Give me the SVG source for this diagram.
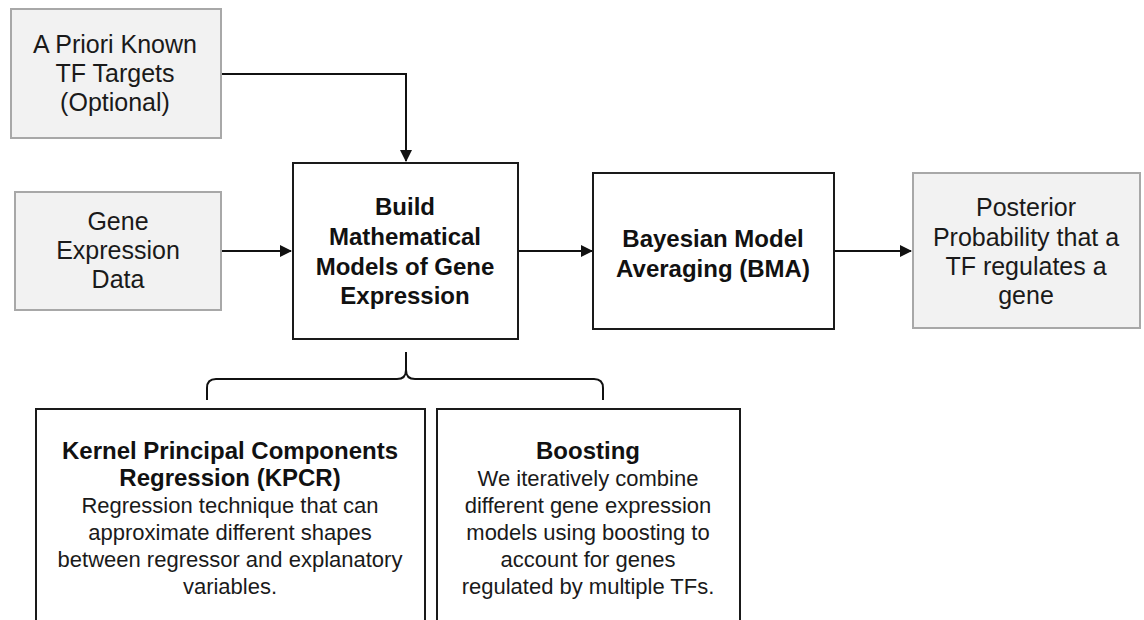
<svg xmlns="http://www.w3.org/2000/svg" width="1144" height="620" viewBox="0 0 1144 620">
<style>
.gray{fill:#f2f2f2;stroke:#a8a8a8;stroke-width:2}
.blk{fill:#ffffff;stroke:#1a1a1a;stroke-width:2}
.t{font-family:"Liberation Sans",Arial,sans-serif;font-size:25px;fill:#1a1a1a;text-anchor:middle}
.b{font-family:"Liberation Sans",Arial,sans-serif;font-size:24px;font-weight:bold;fill:#111;text-anchor:middle}
.s{font-family:"Liberation Sans",Arial,sans-serif;font-size:22px;fill:#1a1a1a;text-anchor:middle}
.c{fill:none;stroke:#111;stroke-width:2}
</style>
<defs>
<marker id="ah" markerWidth="12" markerHeight="12" refX="11" refY="6" orient="auto" markerUnits="userSpaceOnUse">
<path d="M0,0 L12,6 L0,12 Z" fill="#111"/>
</marker>
</defs>
<rect width="1144" height="620" fill="#ffffff"/>
<g id="connectors">
<path class="c" d="M221,74 H406 V161" marker-end="url(#ah)"/>
<path class="c" d="M221,251 H291" marker-end="url(#ah)"/>
<path class="c" d="M518,251 H592" marker-end="url(#ah)"/>
<path class="c" d="M834,251 H911" marker-end="url(#ah)"/>
<path class="c" d="M207,400 V388 Q207,379 216,379 H397 Q406,379 406,370 V352 M406,370 Q406,379 415,379 H594 Q603,379 603,388 V400"/>
</g>
<g id="priori">
<rect class="gray" x="11" y="9" width="210" height="129"/>
<text class="t" x="115" y="53">A Priori Known</text>
<text class="t" x="115" y="82">TF Targets</text>
<text class="t" x="115" y="111">(Optional)</text>
</g>
<g id="gene">
<rect class="gray" x="15" y="192" width="206" height="118"/>
<text class="t" x="118" y="230">Gene</text>
<text class="t" x="118" y="259">Expression</text>
<text class="t" x="118" y="288">Data</text>
</g>
<g id="build">
<rect class="blk" x="293" y="163" width="225" height="176"/>
<text class="b" x="405" y="215">Build</text>
<text class="b" x="405" y="245">Mathematical</text>
<text class="b" x="405" y="275">Models of Gene</text>
<text class="b" x="405" y="304">Expression</text>
</g>
<g id="bma">
<rect class="blk" x="593" y="173" width="241" height="156"/>
<text class="b" x="713" y="247">Bayesian Model</text>
<text class="b" x="713" y="277">Averaging (BMA)</text>
</g>
<g id="posterior">
<rect class="gray" x="913" y="173" width="227" height="155"/>
<text class="t" x="1026" y="216">Posterior</text>
<text class="t" x="1026" y="246">Probability that a</text>
<text class="t" x="1026" y="275">TF regulates a</text>
<text class="t" x="1026" y="304">gene</text>
</g>
<g id="kpcr">
<rect class="blk" x="36" y="409" width="389" height="230"/>
<text class="b" x="230" y="459">Kernel Principal Components</text>
<text class="b" x="230" y="486">Regression (KPCR)</text>
<text class="s" x="230" y="513">Regression technique that can</text>
<text class="s" x="230" y="540">approximate different shapes</text>
<text class="s" x="230" y="567">between regressor and explanatory</text>
<text class="s" x="230" y="594">variables.</text>
</g>
<g id="boosting">
<rect class="blk" x="437" y="409" width="303" height="230"/>
<text class="b" x="588" y="459">Boosting</text>
<text class="s" x="588" y="486">We iteratively combine</text>
<text class="s" x="588" y="513">different gene expression</text>
<text class="s" x="588" y="540">models using boosting to</text>
<text class="s" x="588" y="567">account for genes</text>
<text class="s" x="588" y="594">regulated by multiple TFs.</text>
</g>
</svg>
